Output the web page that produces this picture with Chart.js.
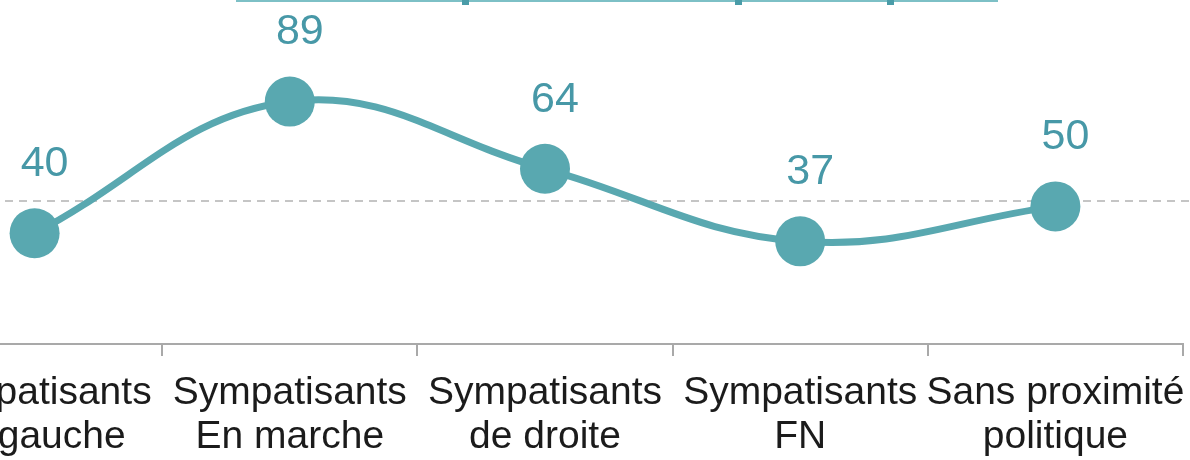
<!DOCTYPE html>
<html>
<head>
<meta charset="utf-8">
<script src="https://cdn.jsdelivr.net/npm/chart.js@4.4.1/dist/chart.umd.min.js"></script>
<style>
  html, body { margin: 0; padding: 0; background: #ffffff; width: 1190px; height: 460px; overflow: hidden; }
  #wrap { position: absolute; left: -93px; top: 0; width: 1290px; height: 460px; }
  .topline { position: absolute; left: 236px; top: 0; width: 762px; height: 2px; background: #7dc0c6; }
  .stub { position: absolute; top: 0; width: 7px; height: 5px; background: #4a9ca8; }
</style>
</head>
<body>
<div class="topline"></div>
<div class="stub" style="left:462px"></div>
<div class="stub" style="left:735px"></div>
<div class="stub" style="left:887px"></div>
<div id="wrap"><canvas id="c" width="1290" height="460"></canvas></div>
<script>
const categories = [
  ['Sympatisants', 'de gauche'],
  ['Sympatisants', 'En marche'],
  ['Sympatisants', 'de droite'],
  ['Sympatisants', 'FN'],
  ['Sans proximité', 'politique']
];
const values = [40, 89, 64, 37, 50];
const referenceValue = 52;

const TEAL = '#59a8b0';
const LABEL_TEAL = '#4798a7';

const refLinePlugin = {
  id: 'refLine',
  beforeDatasetsDraw(chart) {
    const y = chart.scales.y.getPixelForValue(referenceValue);
    const ctx = chart.ctx;
    ctx.save();
    ctx.strokeStyle = '#b3b3b3';
    ctx.lineWidth = 1.6;
    ctx.setLineDash([8, 6]);
    ctx.beginPath();
    ctx.moveTo(chart.chartArea.left, y);
    ctx.lineTo(chart.width, y);
    ctx.stroke();
    ctx.restore();
  }
};

const valueLabelPlugin = {
  id: 'valueLabels',
  afterDatasetsDraw(chart) {
    const ctx = chart.ctx;
    const meta = chart.getDatasetMeta(0);
    ctx.save();
    ctx.font = '43px "Liberation Sans", Arial, sans-serif';
    ctx.fillStyle = LABEL_TEAL;
    ctx.textAlign = 'center';
    ctx.textBaseline = 'middle';
    meta.data.forEach((pt, i) => {
      ctx.fillText(String(values[i]), pt.x + 10, pt.y - 69);
    });
    ctx.restore();
  }
};

new Chart(document.getElementById('c'), {
  type: 'line',
  data: {
    labels: categories,
    datasets: [{
      data: values,
      borderColor: TEAL,
      backgroundColor: TEAL,
      borderWidth: 7,
      tension: 0.4,
      pointRadius: 25,
      pointHoverRadius: 25,
      pointBorderWidth: 0,
      pointBackgroundColor: TEAL,
      fill: false,
      clip: false
    }]
  },
  options: {
    responsive: false,
    animation: false,
    events: [],
    layout: { autoPadding: false, padding: { top: 72, bottom: 1, left: 0, right: 14 } },
    plugins: { legend: { display: false }, tooltip: { enabled: false }, title: { display: false } },
    scales: {
      y: { display: false, min: -1.2, max: 100 },
      x: {
        offset: true,
        afterFit(scale) {
          scale.paddingLeft = 0;
          scale.paddingRight = 0;
          scale.height = 115;
        },
        border: { display: true, color: '#a9a9a9', width: 2 },
        grid: { display: true, offset: true, drawOnChartArea: false, drawTicks: true, tickLength: 12, color: '#a9a9a9', lineWidth: 2 },
        ticks: {
          color: '#1b1b1b',
          padding: 15,
          maxRotation: 0,
          autoSkip: false,
          font: { family: '"Liberation Sans", Arial, sans-serif', size: 39, lineHeight: 1.13 }
        }
      }
    }
  },
  plugins: [refLinePlugin, valueLabelPlugin]
});
</script>
</body>
</html>
